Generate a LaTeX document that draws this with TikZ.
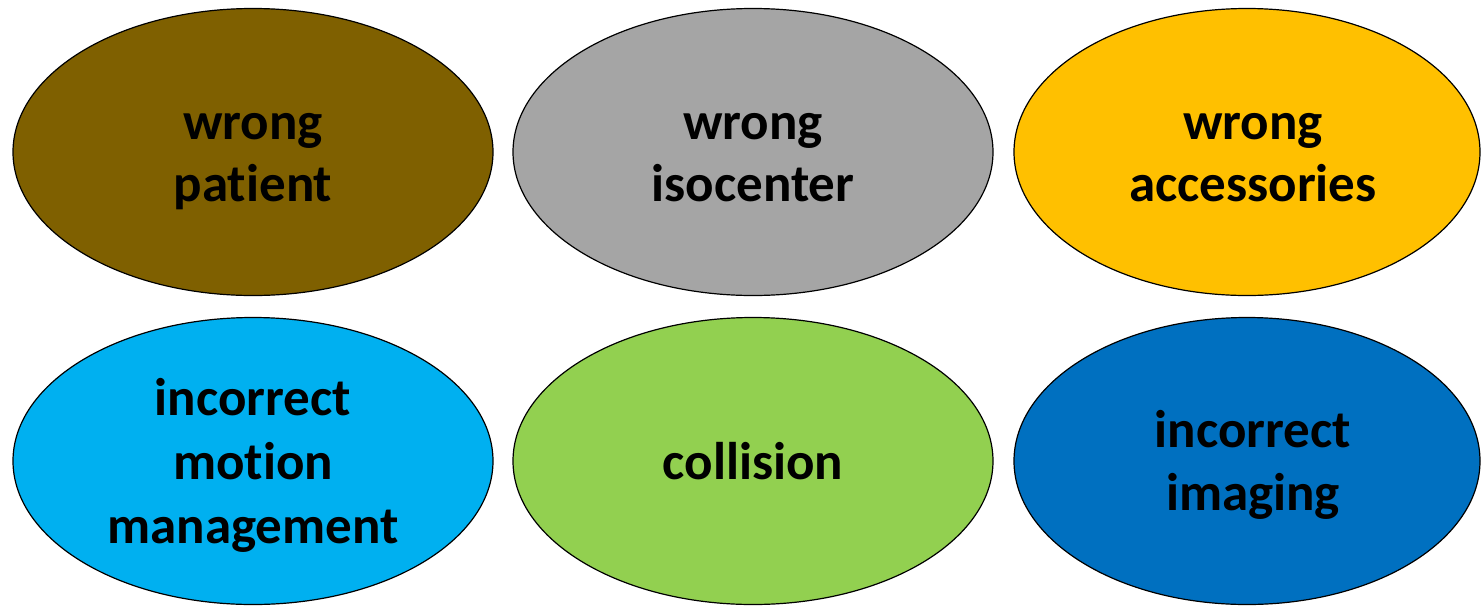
\documentclass[tikz,border=0pt]{standalone}
\usepackage{fontspec}
\setmainfont[Ligatures=NoCommon]{Carlito}
\usetikzlibrary{shapes.geometric}
\definecolor{cbrown}{HTML}{7F6000}
\definecolor{cgray}{HTML}{A5A5A5}
\definecolor{cgold}{HTML}{FFC000}
\definecolor{ccyan}{HTML}{00B0F0}
\definecolor{cgreen}{HTML}{92D050}
\definecolor{cblue}{HTML}{0070C0}
\tikzset{
  oval/.style={ellipse, draw=black, line width=1.2pt, inner sep=0pt,
    minimum width=480pt, minimum height=287pt},
  txt/.style={inner sep=0pt, anchor=base,
    font=\fontsize{53}{63}\selectfont\bfseries, text=black}
}
\begin{document}
\begin{tikzpicture}[x=1pt,y=-1pt]
\useasboundingbox (0,0) rectangle (1481,606);
\node[oval, fill=cbrown] (n1) at (253,152) {};
\node[oval, fill=cgray] (n2) at (753,152) {};
\node[oval, fill=cgold, minimum width=466pt] (n3) at (1247,152) {};
\node[oval, fill=ccyan] (n4) at (253,461) {};
\node[oval, fill=cgreen] (n5) at (753,461) {};
\node[oval, fill=cblue, minimum width=466pt] (n6) at (1247,461) {};
\node[txt] (t1a) at (253,139) {wrong};
\node[txt] (t1b) at (253,201) {pat\kern0pt ient};
\node[txt] (t2a) at (753,139) {wrong};
\node[txt] (t2b) at (753,201) {isocenter};
\node[txt] (t3a) at (1253,139) {wrong};
\node[txt] (t3b) at (1253,201) {accessories};
\node[txt] (t4a) at (253,415) {incorrect};
\node[txt] (t4b) at (253,479) {mot\kern0pt ion};
\node[txt] (t4c) at (253,543) {management};
\node[txt] (t5) at (753,479) {collision};
\node[txt] (t6a) at (1253,447) {incorrect};
\node[txt] (t6b) at (1253,510) {imaging};
\end{tikzpicture}
\end{document}
